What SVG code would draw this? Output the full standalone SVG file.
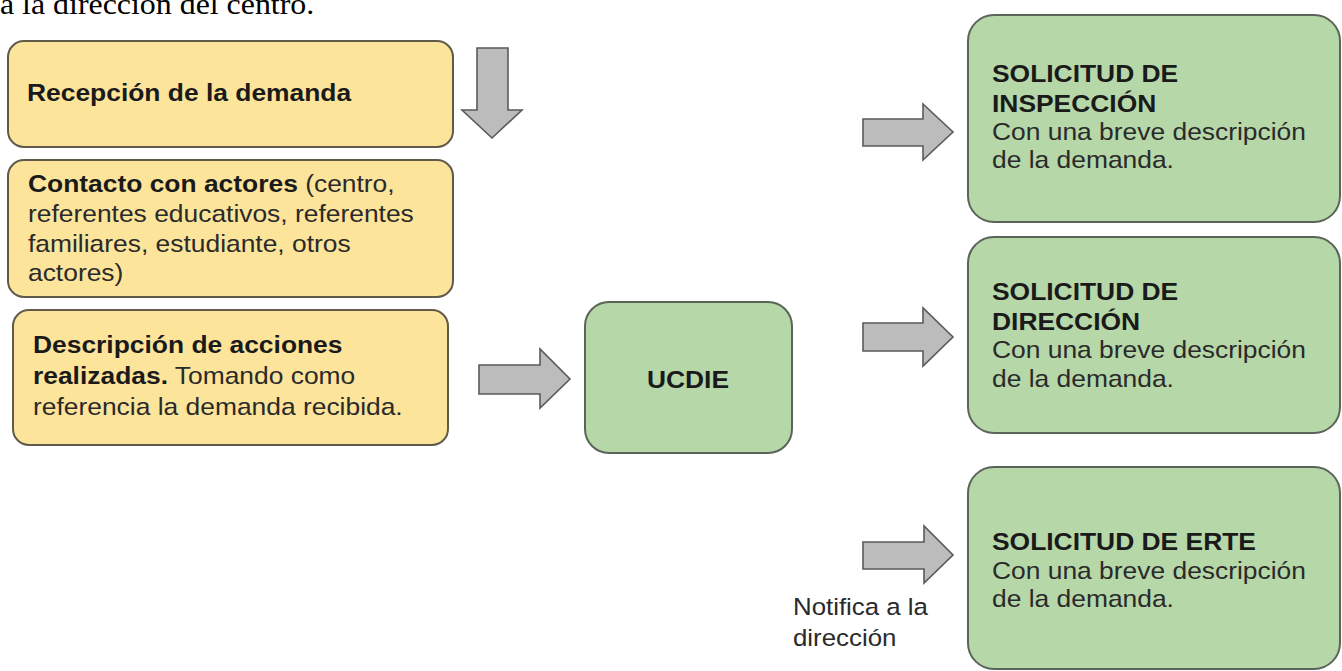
<svg xmlns="http://www.w3.org/2000/svg" width="1342" height="671" viewBox="0 0 1342 671">
<style>
.y{fill:#fde49b;stroke:#5f5a4a;stroke-width:2}
.g{fill:#b6d7a8;stroke:#5a6458;stroke-width:2}
.ar{fill:#bcbcbc;stroke:#5a5a5a;stroke-width:1.6;stroke-linejoin:miter}
.t{font-family:"Liberation Sans",Arial,sans-serif;font-size:24px;fill:#1a1a1a}
.b{font-weight:bold}
.r{fill:#2a2a2a}
.s{font-family:"Liberation Serif","Times New Roman",serif;font-size:29px;fill:#000}
</style>
<rect width="1342" height="671" fill="#ffffff"/>
<text class="s" transform="translate(0,14) scale(1.1,1)">a la dirección del centro.</text>

<g id="recepcion">
<rect class="y" x="8" y="41" width="445" height="106" rx="16"/>
<text class="t b" transform="translate(27,101) scale(1.1,1)">Recepción de la demanda</text>
</g>
<g id="contacto">
<rect class="y" x="8" y="160" width="445" height="137" rx="16"/>
<text class="t" transform="translate(28,192) scale(1.1,1)"><tspan class="b">Contacto con actores</tspan><tspan class="r"> (centro,</tspan></text>
<text class="t r" transform="translate(28,222) scale(1.1,1)">referentes educativos, referentes</text>
<text class="t r" transform="translate(28,252) scale(1.1,1)">familiares, estudiante, otros</text>
<text class="t r" transform="translate(28,281) scale(1.1,1)">actores)</text>
</g>
<g id="descripcion">
<rect class="y" x="13" y="310" width="435" height="135" rx="16"/>
<text class="t b" transform="translate(33,353) scale(1.1,1)">Descripción de acciones</text>
<text class="t" transform="translate(33,384) scale(1.1,1)"><tspan class="b">realizadas.</tspan><tspan class="r"> Tomando como</tspan></text>
<text class="t r" transform="translate(33,415) scale(1.1,1)">referencia la demanda recibida.</text>
</g>
<g id="ucdie">
<rect class="g" x="585" y="302" width="207" height="151" rx="24"/>
<text class="t b" text-anchor="middle" transform="translate(688,388) scale(1.1,1)">UCDIE</text>
</g>
<g id="inspeccion">
<rect class="g" x="968" y="15" width="372" height="207" rx="26"/>
<text class="t b" transform="translate(992,82) scale(1.1,1)">SOLICITUD DE</text>
<text class="t b" transform="translate(992,112) scale(1.1,1)">INSPECCIÓN</text>
<text class="t r" transform="translate(992,140) scale(1.1,1)">Con una breve descripción</text>
<text class="t r" transform="translate(992,168) scale(1.1,1)">de la demanda.</text>
</g>
<g id="direccion">
<rect class="g" x="968" y="237" width="372" height="196" rx="26"/>
<text class="t b" transform="translate(992,300) scale(1.1,1)">SOLICITUD DE</text>
<text class="t b" transform="translate(992,330) scale(1.1,1)">DIRECCIÓN</text>
<text class="t r" transform="translate(992,358) scale(1.1,1)">Con una breve descripción</text>
<text class="t r" transform="translate(992,387) scale(1.1,1)">de la demanda.</text>
</g>
<g id="erte">
<rect class="g" x="968" y="467" width="372" height="202" rx="26"/>
<text class="t b" transform="translate(992,550) scale(1.1,1)">SOLICITUD DE ERTE</text>
<text class="t r" transform="translate(992,579) scale(1.1,1)">Con una breve descripción</text>
<text class="t r" transform="translate(992,607) scale(1.1,1)">de la demanda.</text>
</g>
<g id="notifica">
<text class="t r" style="font-size:23.5px" transform="translate(793,615) scale(1.1,1)">Notifica a la</text>
<text class="t r" style="font-size:23.5px" transform="translate(793,646) scale(1.1,1)">dirección</text>
</g>

<g id="connectors">
<polygon class="ar" points="477,48 508,48 508,110 522,110 492,138 462,110 477,110"/>
<polygon class="ar" points="479,365 540,365 540,349 570,379 540,408 540,394 479,394"/>
<polygon class="ar" points="863,119 923,119 923,104 953,132 923,160 923,146 863,146"/>
<polygon class="ar" points="863,323 923,323 923,308 953,337 923,366 923,351 863,351"/>
<polygon class="ar" points="863,542 924,542 924,526 953,555 924,583 924,569 863,569"/>
</g>
</svg>
